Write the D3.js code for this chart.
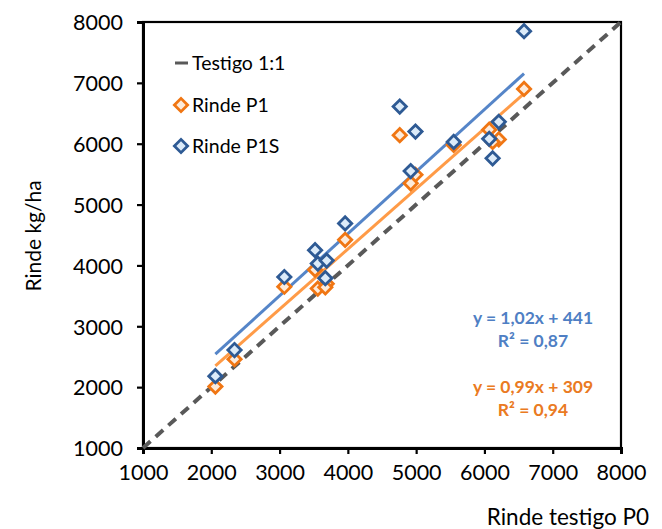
<!DOCTYPE html>
<html><head><meta charset="utf-8">
<script src="https://cdn.jsdelivr.net/npm/d3@7"></script>
<style>body{margin:0;background:#fff;} svg{display:block;font-family:Lato,"Open Sans",sans-serif;}</style>
</head><body>
<svg id="c" width="662" height="529"></svg>
<script>
const testigoP0 = [2060, 2340, 3070, 3520, 3560, 3690, 3670, 3960, 4760, 4990, 4920, 5550, 6070, 6210, 6120, 6580];
const rindeP1S  = [2180, 2610, 3810, 4250, 4030, 4080, 3790, 4690, 6610, 6200, 5550, 6030, 6080, 6360, 5760, 7850];
const rindeP1   = [2010, 2460, 3650, 3930, 3620, 3700, 3640, 4420, 6140, 5490, 5350, 5980, 6230, 6070, 6030, 6900];
const fitP1S = [1.02, 441];
const fitP1  = [0.99, 309];
const ticks = [1000, 2000, 3000, 4000, 5000, 6000, 7000, 8000];
const eqP1S = ["y = 1,02x + 441", "R² = 0,87"];
const eqP1  = ["y = 0,99x + 309", "R² = 0,94"];
const legendLabels = ["Testigo 1:1", "Rinde P1", "Rinde P1S"];

const svg = d3.select("#c");
const L = 143, R = 621, T = 22, B = 448;
const x = d3.scaleLinear().domain([1000, 8000]).range([L, R]);
const y = d3.scaleLinear().domain([1000, 8000]).range([B, T]);

const blueStroke = "#2E5A94", blueFill = "#DCEBF9", blueLine = "#5585C8";
const orStroke = "#F07613", orFill = "#FDEBDB", orLine = "#FF9B47";
const grey = "#595959";

svg.append("rect").attr("x", L).attr("y", T).attr("width", R - L).attr("height", B - T)
  .attr("fill", "none").attr("stroke", "#000").attr("stroke-width", 2.2);

const xa = svg.append("g").attr("transform", `translate(0,${B})`)
  .call(d3.axisBottom(x).tickValues(ticks).tickSize(6).tickPadding(11).tickFormat(d3.format("d")));
const ya = svg.append("g").attr("transform", `translate(${L},0)`)
  .call(d3.axisLeft(y).tickValues(ticks).tickSize(6).tickPadding(14).tickFormat(d3.format("d")));
[xa, ya].forEach(a => {
  a.select(".domain").attr("stroke", "#000").attr("stroke-width", 3);
  a.selectAll(".tick line").attr("stroke", "#000").attr("stroke-width", 2.2);
  a.selectAll(".tick text").attr("fill", "#000").style("font-size", "21.5px").style("font-family", "Lato");
});
ya.selectAll(".tick text").attr("dy", "0.36em");

svg.append("text").attr("x", 649).attr("y", 525).attr("text-anchor", "end")
  .style("font-size", "22.5px").attr("fill", "#000").text("Rinde testigo P0");
svg.append("text").attr("transform", "translate(41,236) rotate(-90)").attr("text-anchor", "middle")
  .style("font-size", "21px").attr("fill", "#000").text("Rinde kg/ha");

svg.append("line").attr("x1", x(1000)).attr("y1", y(1000)).attr("x2", x(8000)).attr("y2", y(8000))
  .attr("stroke", grey).attr("stroke-width", 4).attr("stroke-dasharray", "10,7");

const xmin = d3.min(testigoP0), xmax = d3.max(testigoP0);
function trend(fit, color) {
  svg.append("line").attr("x1", x(xmin)).attr("y1", y(fit[0] * xmin + fit[1]))
    .attr("x2", x(xmax)).attr("y2", y(fit[0] * xmax + fit[1]))
    .attr("stroke", color).attr("stroke-width", 3);
}
trend(fitP1S, blueLine);
trend(fitP1, orLine);

const diamond = d3.symbol().type(d3.symbolSquare).size(88);
function pts(vals, stroke, fill) {
  svg.append("g").selectAll("path").data(vals).join("path")
    .attr("d", diamond)
    .attr("transform", (d, i) => `translate(${x(testigoP0[i])},${y(d)}) rotate(45)`)
    .attr("fill", fill).attr("stroke", stroke).attr("stroke-width", 2.8);
}
pts(rindeP1, orStroke, orFill);
pts(rindeP1S, blueStroke, blueFill);

const lg = svg.append("g");
lg.append("line").attr("x1", 175).attr("x2", 188).attr("y1", 63).attr("y2", 63).attr("stroke", grey).attr("stroke-width", 3);
lg.append("path").attr("d", diamond).attr("transform", "translate(181,105) rotate(45)")
  .attr("fill", orFill).attr("stroke", orStroke).attr("stroke-width", 2.8);
lg.append("path").attr("d", diamond).attr("transform", "translate(181,146) rotate(45)")
  .attr("fill", blueFill).attr("stroke", blueStroke).attr("stroke-width", 2.8);
lg.selectAll("text").data(legendLabels).join("text")
  .attr("x", 192).attr("y", (d, i) => [63, 105, 146][i]).attr("dy", "0.36em")
  .style("font-size", "19.5px").attr("fill", "#000").text(d => d);

function eq(lines, y0, color) {
  svg.append("g").selectAll("text").data(lines).join("text")
    .attr("x", 533).attr("y", (d, i) => y0 + i * 23).attr("dy", "0.36em").attr("text-anchor", "middle")
    .style("font-size", "17.5px").style("font-weight", "bold").attr("fill", color).text(d => d);
}
eq(eqP1S, 318, "#4F7FC4");
eq(eqP1, 387, "#EA7A22");
</script>
</body></html>
